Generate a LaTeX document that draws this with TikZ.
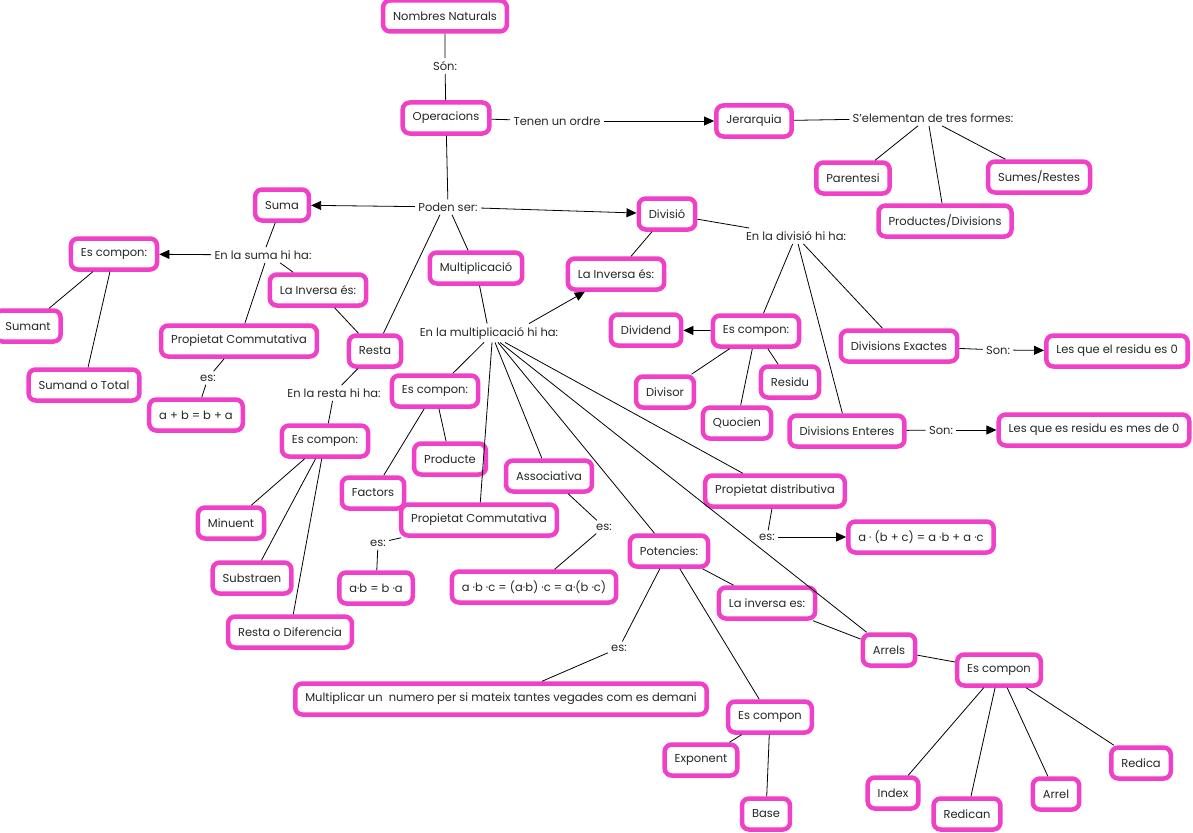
\documentclass[tikz,border=0pt]{standalone}
\usepackage{fontspec}
\setmainfont{Poppins}
\usetikzlibrary{arrows.meta}
\definecolor{rosa}{RGB}{240,64,200}

\begin{document}
\begin{tikzpicture}[x=1pt,y=-1pt,line width=0.8pt,
    cbox/.style={draw=rosa,line width=4.5pt,rounded corners=7pt,fill=white,
        minimum height=31pt,inner xsep=10pt,text=black!85,
        font=\fontsize{11.5}{13}\selectfont},
    lbl/.style={inner sep=3pt,text=black!85,font=\fontsize{11.5}{13}\selectfont},
    arw/.style={-{Triangle[length=10pt,width=9pt]}}]

\useasboundingbox (0,0) rectangle (1193,832);

% operacions
\node[cbox] (nn) at (445,16) {Nombres Naturals};
\node[lbl] (son) at (445,66) {Són:};
\node[cbox] (op) at (446,118) {Operacions};
\node[lbl] (ordre) at (557,121) {Tenen un ordre};
\node[cbox] (jer) at (754,121) {Jerarquia};
\node[lbl] (form) at (933,118) {S'elementan de tres formes:};
\node[cbox] (par) at (853,178) {Parentesi};
\node[cbox] (sr) at (1039,177) {Sumes/Restes};
\node[cbox] (pd) at (945,221) {Productes/Divisions};
\node[lbl] (poden) at (448,207) {Poden ser:};

% suma i resta
\node[cbox] (suma) at (282,205) {Suma};
\node[lbl] (ensuma) at (263,255) {En la suma hi ha:};
\node[cbox] (ecs) at (114,254) {Es compon:};
\node[cbox] (invs) at (318,290) {La Inversa és:};
\node[cbox] (sumant) at (28,326) {Sumant};
\node[cbox] (total) at (84,385) {Sumand o Total};
\node[cbox] (pcs) at (239,341) {Propietat Commutativa};
\node[lbl] (es1) at (208,378) {es:};
\node[cbox] (fs) at (196,415) {a + b = b + a};
\node[cbox] (resta) at (375,351) {Resta};
\node[lbl] (enresta) at (334,393) {En la resta hi ha:};
\node[cbox] (ecr) at (325,441) {Es compon:};
\node[cbox] (minu) at (231,523) {Minuent};
\node[cbox] (subs) at (252,578) {Substraen};
\node[cbox] (dif) at (290,632) {Resta o Diferencia};

% multiplicacio
\node[cbox] (mult) at (476,268) {Multiplicació};
\node[cbox] (invm) at (616,274) {La Inversa és:};
\node[lbl] (enmult) at (489,333) {En la multiplicació hi ha:};
\node[cbox] (ecm) at (435,391) {Es compon:};
\node[cbox] (prod) at (450,459) {Producte};
\node[cbox] (fact) at (373,493) {Factors};
\node[cbox] (assoc) at (549,476) {Associativa};
\node[cbox] (pcm) at (479,520) {Propietat Commutativa};
\node[lbl] (es2) at (378,543) {es:};
\node[cbox] (fm) at (376,588) {a·b = b ·a};
\node[lbl] (es3) at (604,527) {es:};
\node[cbox] (fa) at (534,587) {a ·b ·c = (a·b) ·c = a·(b ·c)};
\node[cbox] (pdis) at (775,491) {Propietat distributiva};
\node[lbl] (es4) at (767,537) {es:};
\node[cbox] (fd) at (921,537) {a · (b + c) = a ·b + a ·c};
\node[cbox] (pot) at (669,551) {Potencies:};
\node[lbl] (es5) at (619,648) {es:};
\node[cbox] (mnum) at (501,699) {Multiplicar un\ \ numero per si mateix tantes vegades com es demani};
\node[cbox] (ecp) at (770,717) {Es compon};
\node[cbox] (expo) at (701,760) {Exponent};
\node[cbox] (base) at (766,814) {Base};
\node[cbox] (invp) at (767,603) {La inversa es:};
\node[cbox] (arrels) at (889,650) {Arrels};
\node[cbox] (eca) at (999,670) {Es compon};
\node[cbox] (index) at (893,793) {Index};
\node[cbox] (redican) at (967,814) {Redican};
\node[cbox] (arrel) at (1056,794) {Arrel};
\node[cbox] (redica) at (1141,763) {Redica};

% divisio
\node[cbox] (div) at (667,214) {Divisió};
\node[lbl] (endiv) at (796,236) {En la divisió hi ha:};
\node[cbox] (dvd) at (646,330) {Dividend};
\node[cbox] (ecd) at (756,331) {Es compon:};
\node[cbox] (dvs) at (665,392) {Divisor};
\node[cbox] (res) at (790,382) {Residu};
\node[cbox] (quo) at (737,423) {Quocien};
\node[cbox] (dex) at (899,346) {Divisions Exactes};
\node[cbox] (den) at (847,431) {Divisions Enteres};
\node[lbl] (son1) at (998,350) {Son:};
\node[lbl] (son2) at (941,430) {Son:};
\node[cbox] (lq1) at (1117,351) {Les que el residu es 0};
\node[cbox] (lq2) at (1094,430) {Les que es residu es mes de 0};

% connectors
\draw (nn) -- (son) -- (op);
\draw (op) -- (ordre);
\draw[arw] (ordre) -- (jer);
\draw (jer) -- (form);
\draw ([xshift=-15pt]form.south) -- (par);
\draw ([xshift=-4pt]form.south) -- (pd);
\draw ([xshift=9pt]form.south) -- (sr);
\draw (op) -- (poden);
\draw[arw] (poden) -- (suma);
\draw[arw] (poden) -- (div);
\draw ([xshift=-8pt]poden.south) -- (resta);
\draw ([xshift=4pt]poden.south) -- (mult);

\draw (suma) -- (ensuma);
\draw[arw] (ensuma) -- (ecs);
\draw ([xshift=2pt]ensuma.south) -- (pcs);
\draw ([xshift=17pt]ensuma.south) -- (invs);
\draw (invs) -- (resta);
\draw (ecs) -- (sumant);
\draw (ecs) -- (total);
\draw (pcs) -- (es1) -- (fs);
\draw (resta) -- (enresta) -- (ecr);
\draw (ecr) -- (minu);
\draw (ecr) -- (subs);
\draw (ecr) -- (dif);

\draw (mult) -- (enmult);
\draw[arw] ([xshift=40pt]enmult.north) -- (invm);
\draw ([xshift=-5pt]enmult.south) -- (ecm);
\draw ([xshift=3pt]enmult.south) -- (pcm);
\draw ([xshift=6pt]enmult.south) -- (assoc);
\draw ([xshift=9pt]enmult.south) -- (pot);
\draw ([xshift=11pt]enmult.south) -- (arrels);
\draw ([xshift=16pt]enmult.south) -- (pdis);
\draw (ecm) -- (fact);
\draw (ecm) -- (prod);
\draw (pcm) -- (es2) -- (fm);
\draw (assoc) -- (es3) -- (fa);
\draw (pdis) -- (es4);
\draw[arw] (es4) -- (fd);
\draw (pot) -- (es5) -- (mnum);
\draw (pot) -- (ecp);
\draw (pot) -- (invp);
\draw (invp) -- (arrels);
\draw (arrels) -- (eca);
\draw (eca) -- (index);
\draw (eca) -- (redican);
\draw (eca) -- (arrel);
\draw (eca) -- (redica);
\draw (ecp) -- (expo);
\draw (ecp) -- (base);

\draw (div) -- (invm);
\draw (div) -- (endiv);
\draw (endiv) -- (ecd);
\draw (endiv) -- (den);
\draw (endiv) -- (dex);
\draw[arw] (ecd) -- (dvd);
\draw (ecd) -- (dvs);
\draw (ecd) -- (quo);
\draw (ecd) -- (res);
\draw (dex) -- (son1);
\draw[arw] (son1) -- (lq1);
\draw (den) -- (son2);
\draw[arw] (son2) -- (lq2);

\end{tikzpicture}
\end{document}
